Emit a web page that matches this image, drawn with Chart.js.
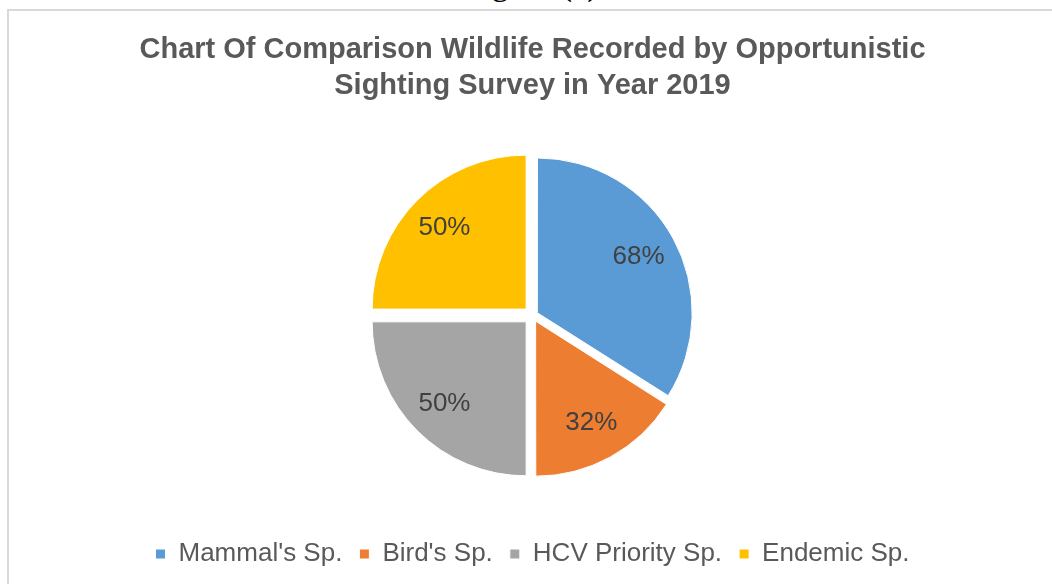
<!DOCTYPE html>
<html>
<head>
<meta charset="utf-8">
<script src="https://cdn.jsdelivr.net/npm/chart.js@4/dist/chart.umd.min.js"></script>
<style>
  html, body { margin: 0; padding: 0; background: #fff; overflow: hidden; width: 1052px; height: 584px; }
  #caption { position: absolute; left: 0; width: 1062px; top: -33px; text-align: center; font: 34px "Liberation Serif", serif; line-height: 1; color: #000; }
  #frame { position: absolute; left: 7px; top: 9px; width: 1100px; height: 640px; border: 2px solid #d9d9d9; }
  #wrap { position: absolute; left: 9px; top: 11px; width: 1050px; height: 573px; }
</style>
</head>
<body>
<div id="caption">Figure (a)</div>
<div id="frame"></div>
<div id="wrap"><canvas id="pieChart"></canvas></div>
<script>
const categories = ["Mammal's Sp.", "Bird's Sp.", "HCV Priority Sp.", "Endemic Sp."];
const values = [68, 32, 50, 50];
const sliceColors = ['#5b9bd5', '#ed7d31', '#a5a5a5', '#ffc000'];
const sliceOffsets = [22, 26, 36, 36]; // chart.js moves a slice by offset/4
const titleLines = ['Chart Of Comparison Wildlife Recorded by Opportunistic', 'Sighting Survey in Year 2019'];

// draws the "68%" style labels inside each slice
const sliceLabels = {
    id: 'sliceLabels',
    afterDatasetsDraw(chart) {
        const ctx = chart.ctx;
        const meta = chart.getDatasetMeta(0);
        ctx.save();
        ctx.font = '26px "Liberation Sans", Arial, sans-serif';
        ctx.fillStyle = '#404040';
        ctx.textAlign = 'center';
        ctx.textBaseline = 'middle';
        meta.data.forEach((arc, i) => {
            const p = arc.getProps(['x', 'y', 'startAngle', 'endAngle', 'outerRadius']);
            const mid = (p.startAngle + p.endAngle) / 2;
            const r = p.outerRadius * 0.75 + sliceOffsets[i] / 4;
            ctx.fillText(values[i] + '%', p.x + Math.cos(mid) * r, p.y + Math.sin(mid) * r);
        });
        ctx.restore();
    }
};

const ctx = document.getElementById('pieChart').getContext('2d');
new Chart(ctx, {
    type: 'pie',
    data: {
        labels: categories,
        datasets: [{
            data: values,
            backgroundColor: sliceColors,
            borderColor: '#ffffff',
            borderWidth: 1,
            offset: sliceOffsets,
            radius: 154
        }]
    },
    options: {
        responsive: true,
        maintainAspectRatio: false,
        animation: false,
        layout: { padding: { left: 0, right: 3, top: 0, bottom: 7 } },
        plugins: {
            title: {
                display: true,
                text: titleLines,
                color: '#595959',
                font: { family: '"Liberation Sans", Arial, sans-serif', size: 29, weight: 'bold', lineHeight: 1.24 },
                padding: { top: 21, bottom: 3 }
            },
            legend: {
                position: 'bottom',
                labels: {
                    color: '#595959',
                    font: { family: '"Liberation Sans", Arial, sans-serif', size: 26 },
                    boxWidth: 10,
                    boxHeight: 10,
                    padding: 17
                }
            },
            tooltip: { enabled: false }
        }
    },
    plugins: [sliceLabels]
});
</script>
</body>
</html>
